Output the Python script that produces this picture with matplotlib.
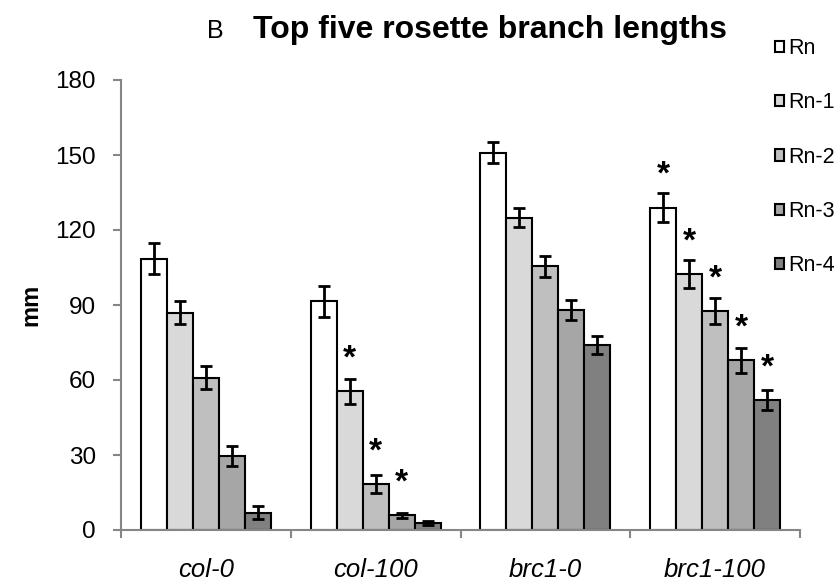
import matplotlib
matplotlib.use("Agg")
import matplotlib.pyplot as plt
import numpy as np

plt.rcParams['font.family'] = ['Liberation Sans', 'DejaVu Sans']

categories = ["col-0", "col-100", "brc1-0", "brc1-100"]
series = ["Rn", "Rn-1", "Rn-2", "Rn-3", "Rn-4"]
values = {
    "Rn":   [108.5, 91.5, 151.0, 129.0],
    "Rn-1": [87.0, 55.5, 125.0, 102.5],
    "Rn-2": [61.0, 18.5, 105.5, 87.5],
    "Rn-3": [29.5, 6.0, 88.0, 68.0],
    "Rn-4": [7.0, 3.0, 74.0, 52.0],
}
errors = {
    "Rn":   [6.2, 6.2, 4.3, 5.7],
    "Rn-1": [4.5, 5.1, 3.7, 5.7],
    "Rn-2": [4.5, 3.5, 4.1, 5.2],
    "Rn-3": [4.0, 1.0, 4.0, 5.0],
    "Rn-4": [2.5, 0.8, 3.5, 4.0],
}
significant = {
    "Rn":   [False, False, False, True],
    "Rn-1": [False, True, False, True],
    "Rn-2": [False, True, False, True],
    "Rn-3": [False, True, False, True],
    "Rn-4": [False, False, False, True],
}
colors = ["#ffffff", "#d9d9d9", "#bfbfbf", "#a6a6a6", "#808080"]
yticks = [0, 30, 60, 90, 120, 150, 180]

fig = plt.figure(figsize=(8.4, 5.88), dpi=100)
ax = fig.add_axes([121/840, 1-530/588, (800-121)/840, (530-80)/588])

x = np.arange(len(categories))
w = 0.153
for i, s in enumerate(series):
    xs = x + (i - 2) * w
    ax.bar(xs, values[s], width=w, color=colors[i], edgecolor='black',
           linewidth=1.5, label=s, zorder=2)
    ax.errorbar(xs, values[s], yerr=errors[s], fmt='none', ecolor='black',
                elinewidth=2, capsize=4, capthick=2, zorder=3)
    for j in range(len(categories)):
        if significant[s][j]:
            ax.annotate("*", (xs[j], values[s][j]), xytext=(0, 32),
                        textcoords='offset pixels', ha='center', va='center',
                        fontsize=24, fontweight='bold')

ax.set_xlim(-0.5, len(categories) - 0.5)
ax.set_ylim(0, 180)
ax.set_yticks(yticks)
ax.set_yticklabels([str(v) for v in yticks], fontsize=17.5)
ax.set_xticks(x)
ax.set_xticklabels(categories, fontsize=18.5, style='italic')
ax.set_xticks(np.arange(len(categories) + 1) - 0.5, minor=True)
ax.tick_params(axis='x', which='major', length=0, pad=20)
ax.tick_params(axis='x', which='minor', length=6, width=1.5, color='#868686', direction='out')
ax.tick_params(axis='y', length=6, width=1.5, color='#868686', direction='out', pad=12)
for sp in ['top', 'right']:
    ax.spines[sp].set_visible(False)
for sp in ['left', 'bottom']:
    ax.spines[sp].set_color('#868686')
    ax.spines[sp].set_linewidth(1.5)

ax.set_ylabel("mm", fontsize=17, fontweight='bold')
ax.yaxis.label.set_va('center')
ax.yaxis.set_label_coords((31-121)/679, 0.5)

fig.text(207/840, 1-31/588, "B", fontsize=18, ha='left', va='center',
         family=['Liberation Sans Narrow', 'Liberation Sans'])
fig.text(490/840, 1-30/588, "Top five rosette branch lengths", fontsize=23,
         fontweight='bold', ha='center', va='center')

leg = fig.legend(loc='upper left', bbox_to_anchor=(775/840, 1-38/588),
                 frameon=False, fontsize=15.5, labelspacing=1.55,
                 handlelength=0.42, handleheight=0.42, handletextpad=0.18,
                 borderaxespad=0, borderpad=0)
for h in leg.legend_handles:
    h.set_linewidth(1.5)

fig.savefig("out.png", dpi=100)
